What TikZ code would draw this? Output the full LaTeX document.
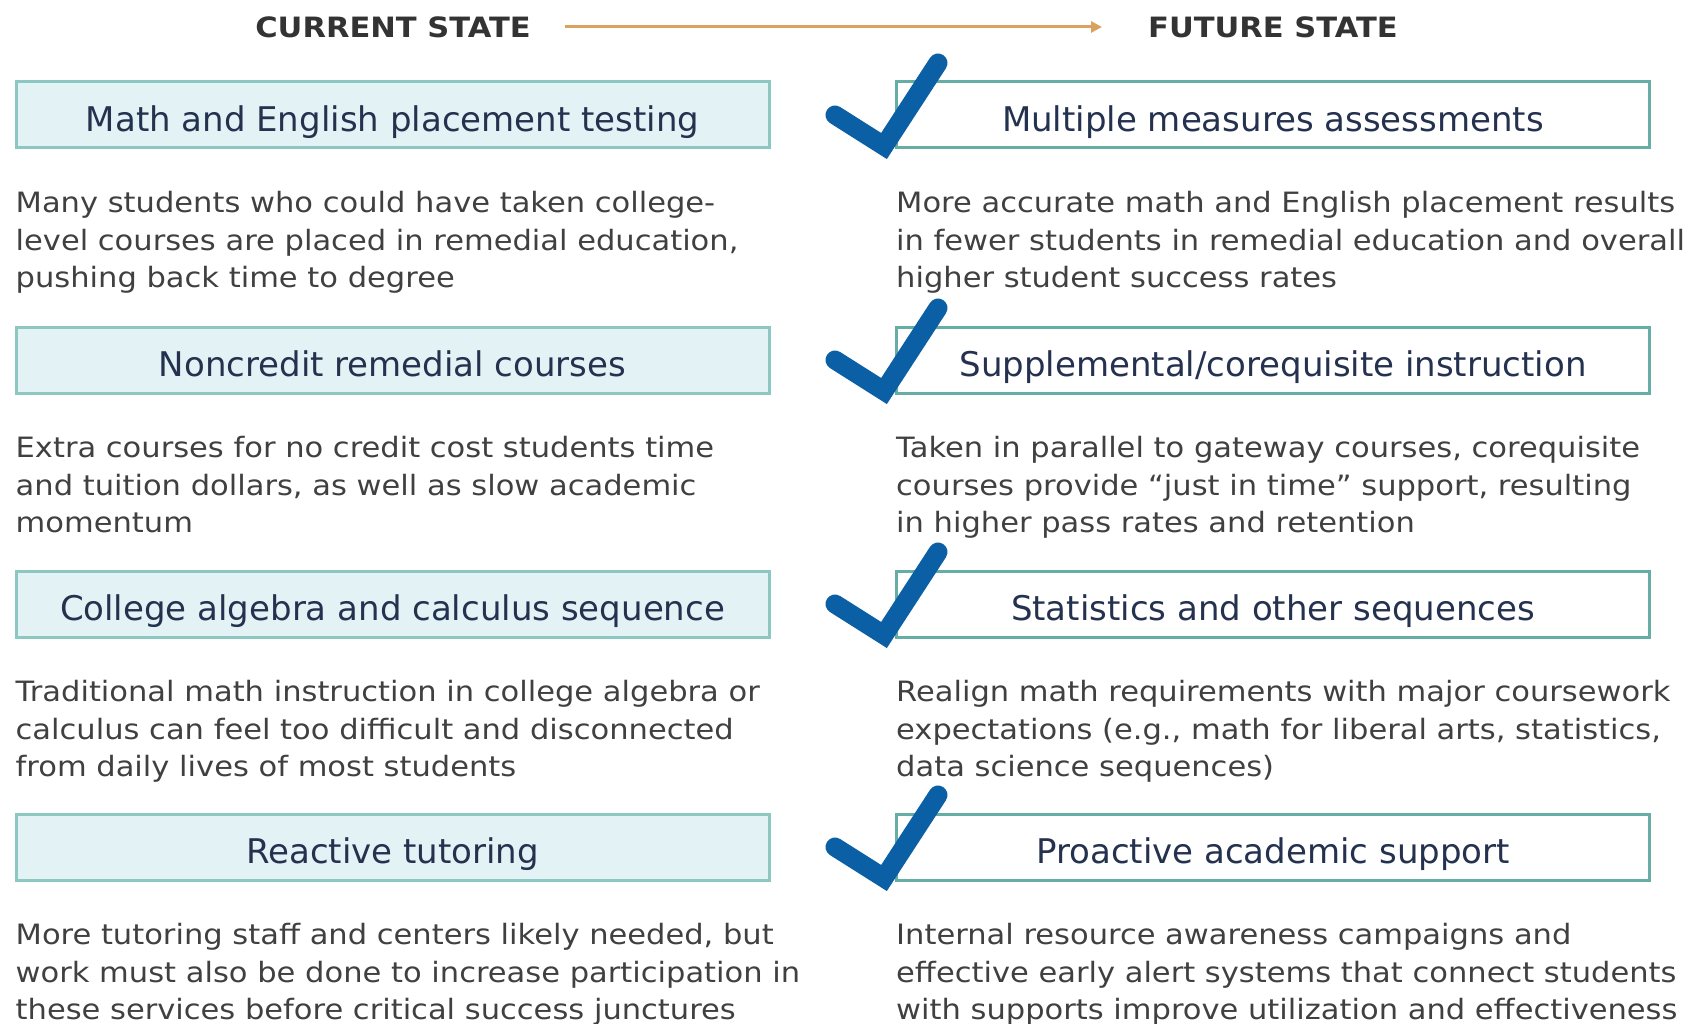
\documentclass[tikz,border=0pt]{standalone}
\usepackage{fontspec}
\setmainfont{DejaVu Sans}[FakeStretch=1.09]
\newfontfamily\boxfont{DejaVu Sans}
\usetikzlibrary{calc,arrows.meta}
\definecolor{boxfill}{HTML}{E3F3F5}
\definecolor{curline}{HTML}{8CC8C1}
\definecolor{futline}{HTML}{66ADA5}
\definecolor{navy}{HTML}{25324F}
\definecolor{greytxt}{HTML}{404040}
\definecolor{checkblue}{HTML}{0B5FA5}
\definecolor{tan}{HTML}{D9A35F}

\begin{document}
\begin{tikzpicture}[x=1pt,y=-1pt]
\tikzstyle{head}=[font=\fontsize{28}{32}\selectfont\bfseries,text=black!80,inner sep=0pt]
\tikzstyle{curbox}=[draw=curline,line width=3pt,fill=boxfill,minimum width=753pt,minimum height=66pt,text=navy,text height=33pt,text depth=0pt,font=\boxfont\fontsize{34}{38}\selectfont]
\tikzstyle{futbox}=[curbox,draw=futline,fill=white]
\tikzstyle{desc}=[anchor=north west,inner sep=0pt,align=left,text=greytxt,font=\fontsize{28}{37.5}\selectfont]
\tikzstyle{check}=[draw=checkblue,line width=19pt,line cap=round,line join=miter]
\useasboundingbox (0,0) rectangle (1689,1024);
\node[head] (curhead) at (393,27) {CURRENT STATE};
\node[head] (futhead) at (1273,27) {FUTURE STATE};
\draw[draw=tan,line width=3pt,-{Triangle[length=11pt,width=11pt]},shorten <=34pt,shorten >=46pt] (curhead) -- (futhead);
\foreach \i/\y/\cur/\curtxt/\fut/\futtxt in {
	1/115/{Math and English placement testing}/{Many students who could have taken college-\\level courses are placed in remedial education,\\pushing back time to degree}/{Multiple measures assessments}/{More accurate math and English placement results\\in fewer students in remedial education and overall\\higher student success rates},
	2/360/{Noncredit remedial courses}/{Extra courses for no credit cost students time\\and tuition dollars, as well as slow academic\\momentum}/{Supplemental/corequisite instruction}/{Taken in parallel to gateway courses, corequisite\\courses provide “just in time” support, resulting\\in higher pass rates and retention},
	3/604/{College algebra and calculus sequence}/{Traditional math instruction in college algebra or\\calculus can feel too difficult and disconnected\\from daily lives of most students}/{Statistics and other sequences}/{Realign math requirements with major coursework\\expectations (e.g., math for liberal arts, statistics,\\data science sequences)},
	4/847/{Reactive tutoring}/{More tutoring staff and centers likely needed, but\\work must also be done to increase participation in\\these services before critical success junctures}/{Proactive academic support}/{Internal resource awareness campaigns and\\effective early alert systems that connect students\\with supports improve utilization and effectiveness}}
{
	\node[curbox] (cur\i) at (392.5,\y) {\cur};
	\node[futbox] (fut\i) at (1273,\y) {\fut};
	\node[desc] (curd\i) at ([shift={(1,42)}]cur\i.south west) {\curtxt};
	\node[desc] (futd\i) at ([shift={(1,42)}]fut\i.south west) {\futtxt};
	\draw[check] ($(fut\i.west)+(-60,0)$) -- ($(fut\i.west)+(-11,31)$) -- ($(fut\i.west)+(43,-52)$);
}
\end{tikzpicture}
\end{document}
